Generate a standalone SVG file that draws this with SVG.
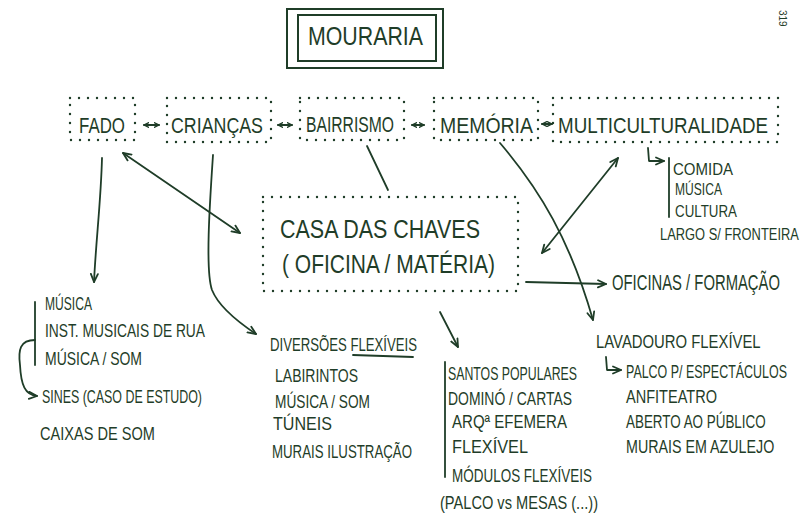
<svg xmlns="http://www.w3.org/2000/svg" width="800" height="520" viewBox="0 0 800 520">
<defs>
<style>
.t{font-family:"Liberation Sans","DejaVu Sans",sans-serif;fill:#1f3d28}
.f26{font-size:26px}
.f22{font-size:22px}
.f18{font-size:18px}
.f17{font-size:17px}
.dot{fill:none;stroke:#1f3d28;stroke-width:2.4;stroke-linecap:round;stroke-dasharray:0 9}
.ln{fill:none;stroke:#1f3d28;stroke-width:1.8;stroke-linecap:round;stroke-linejoin:round}
.box{fill:none;stroke:#1f3d28;stroke-width:2}
</style>
<marker id="ah" viewBox="0 0 10 10" refX="9" refY="5" markerWidth="10" markerHeight="10" markerUnits="userSpaceOnUse" orient="auto-start-reverse">
<path d="M1,1.5 L9,5 L1,8.5" fill="none" stroke="#1f3d28" stroke-width="1.8" stroke-linecap="round" stroke-linejoin="round"/>
</marker>
<marker id="ahs" viewBox="0 0 10 10" refX="9" refY="5" markerWidth="6" markerHeight="6" markerUnits="userSpaceOnUse" orient="auto-start-reverse">
<path d="M1,1 L9,5 L1,9" fill="none" stroke="#1f3d28" stroke-width="2" stroke-linecap="round"/>
</marker>
</defs>
<rect width="800" height="520" fill="#ffffff"/>

<g id="title">
<rect class="box" x="287" y="9" width="156" height="59"/>
<rect class="box" x="298" y="15" width="138" height="46"/>
<text class="t f26" x="308" y="45" textLength="115" lengthAdjust="spacingAndGlyphs">MOURARIA</text>
</g>

<g id="fado">
<rect class="dot" x="70" y="98" width="65" height="42"/>
<text class="t f22" x="79" y="133" textLength="46" lengthAdjust="spacingAndGlyphs">FADO</text>
</g>
<g id="criancas">
<rect class="dot" x="167" y="98" width="104" height="44"/>
<text class="t f22" x="171" y="133" textLength="92" lengthAdjust="spacingAndGlyphs">CRIANÇAS</text>
</g>
<g id="bairrismo">
<rect class="dot" x="300" y="98" width="104" height="42"/>
<text class="t f22" x="306" y="132" textLength="88" lengthAdjust="spacingAndGlyphs">BAIRRISMO</text>
</g>
<g id="memoria">
<rect class="dot" x="434" y="98" width="104" height="42"/>
<text class="t f22" x="440" y="133" textLength="93" lengthAdjust="spacingAndGlyphs">MEMÓRIA</text>
</g>
<g id="multiculturalidade">
<rect class="dot" x="553" y="98" width="225" height="44"/>
<text class="t f22" transform="translate(558,133) scale(0.854,1)">MULTICULTURALIDADE</text>
</g>

<g id="casa">
<rect class="dot" x="263" y="197" width="255" height="94"/>
<text class="t f26" x="280" y="238" textLength="200" lengthAdjust="spacingAndGlyphs">CASA DAS CHAVES</text>
<text class="t f26" x="282" y="273" textLength="213" lengthAdjust="spacingAndGlyphs">( OFICINA / MATÉRIA)</text>
</g>

<g id="fado-list">
<text class="t f18" x="45" y="310" textLength="47" lengthAdjust="spacingAndGlyphs">MÚSICA</text>
<text class="t f18" x="45" y="337" textLength="160" lengthAdjust="spacingAndGlyphs">INST. MUSICAIS DE RUA</text>
<text class="t f18" x="45" y="365" textLength="97" lengthAdjust="spacingAndGlyphs">MÚSICA / SOM</text>
<text class="t f18" x="42" y="403" textLength="160" lengthAdjust="spacingAndGlyphs">SINES (CASO DE ESTUDO)</text>
<text class="t f18" x="40" y="440" textLength="115" lengthAdjust="spacingAndGlyphs">CAIXAS DE SOM</text>
</g>

<g id="diversoes-list">
<text class="t f18" x="270" y="351" textLength="147" lengthAdjust="spacingAndGlyphs">DIVERSÕES FLEXÍVEIS</text>
<text class="t f18" x="275" y="382" textLength="83" lengthAdjust="spacingAndGlyphs">LABIRINTOS</text>
<text class="t f18" x="275" y="408" textLength="95" lengthAdjust="spacingAndGlyphs">MÚSICA / SOM</text>
<text class="t f18" x="273" y="430" textLength="59" lengthAdjust="spacingAndGlyphs">TÚNEIS</text>
<text class="t f18" x="272" y="458" textLength="140" lengthAdjust="spacingAndGlyphs">MURAIS ILUSTRAÇÃO</text>
</g>

<g id="santos-list">
<text class="t f18" x="448" y="380" textLength="129" lengthAdjust="spacingAndGlyphs">SANTOS POPULARES</text>
<text class="t f18" x="448" y="405" textLength="124" lengthAdjust="spacingAndGlyphs">DOMINÓ / CARTAS</text>
<text class="t f18" x="452" y="428" textLength="115" lengthAdjust="spacingAndGlyphs">ARQª EFEMERA</text>
<text class="t f18" x="452" y="453" textLength="76" lengthAdjust="spacingAndGlyphs">FLEXÍVEL</text>
<text class="t f18" x="452" y="482" textLength="140" lengthAdjust="spacingAndGlyphs">MÓDULOS FLEXÍVEIS</text>
<text class="t f18" x="440" y="509" textLength="158" lengthAdjust="spacingAndGlyphs">(PALCO vs MESAS (...))</text>
</g>

<g id="oficinas">
<text class="t f22" transform="translate(612,290) scale(0.674,1)">OFICINAS / FORMAÇÃO</text>
</g>

<g id="lavadouro-list">
<text class="t" font-size="19" transform="translate(596,348) scale(0.783,1)">LAVADOURO FLEXÍVEL</text>
<text class="t f18" transform="translate(626,378) scale(0.692,1)">PALCO P/ ESPECTÁCULOS</text>
<text class="t f18" x="626" y="403" textLength="91" lengthAdjust="spacingAndGlyphs">ANFITEATRO</text>
<text class="t f18" transform="translate(626,428) scale(0.746,1)">ABERTO AO PÚBLICO</text>
<text class="t f18" transform="translate(626,453) scale(0.793,1)">MURAIS EM AZULEJO</text>
</g>

<g id="multi-list">
<text class="t f17" x="673" y="175" textLength="60" lengthAdjust="spacingAndGlyphs">COMIDA</text>
<text class="t f17" x="675" y="195" textLength="47" lengthAdjust="spacingAndGlyphs">MÚSICA</text>
<text class="t f17" x="675" y="217" textLength="62" lengthAdjust="spacingAndGlyphs">CULTURA</text>
<text class="t f17" transform="translate(660,240) scale(0.758,1)">LARGO S/ FRONTEIRA</text>
</g>

<g id="page-number">
<text class="t" font-size="10" x="0" y="0" transform="translate(779,10) rotate(90)">319</text>
</g>

<g id="connectors">
<path class="ln" d="M144,125 L159,125" marker-start="url(#ahs)" marker-end="url(#ahs)"/>
<path class="ln" d="M278,125 L292,125" marker-start="url(#ahs)" marker-end="url(#ahs)"/>
<path class="ln" d="M412,125 L424,125" marker-start="url(#ahs)" marker-end="url(#ahs)"/>
<path class="ln" d="M542,124 L552,124" marker-start="url(#ahs)" marker-end="url(#ahs)"/>
<path class="ln" d="M102,158 C101,200 96,240 94,282" marker-end="url(#ah)"/>
<path class="ln" d="M123,153 L240,233" marker-start="url(#ah)" marker-end="url(#ah)"/>
<path class="ln" d="M213,155 C210,200 205,270 212,290 C218,305 235,320 256,334" marker-end="url(#ah)"/>
<path class="ln" d="M367,146 L388,190"/>
<path class="ln" d="M500,143 C540,190 570,240 593,320" marker-end="url(#ah)"/>
<path class="ln" d="M542,253 L618,158" marker-start="url(#ah)" marker-end="url(#ah)"/>
<path class="ln" d="M526,282 L606,284" marker-end="url(#ah)"/>
<path class="ln" d="M440,312 L458,347" marker-end="url(#ah)"/>
<path class="ln" d="M648,148 L649,161 L664,161" marker-end="url(#ah)"/>
<path class="ln" d="M606,357 L607,370 L621,370" marker-end="url(#ah)"/>
<path class="ln" d="M35,340 C20,340 18,350 20,365 C21,385 25,395 37,396" marker-end="url(#ah)"/>
<path class="ln" d="M35,302 L35,365"/>
<path class="ln" d="M669,158 L669,217"/>
<path class="ln" d="M445,362 L445,477"/>
<path class="ln" d="M353,355 L413,357"/>
</g>
</svg>
